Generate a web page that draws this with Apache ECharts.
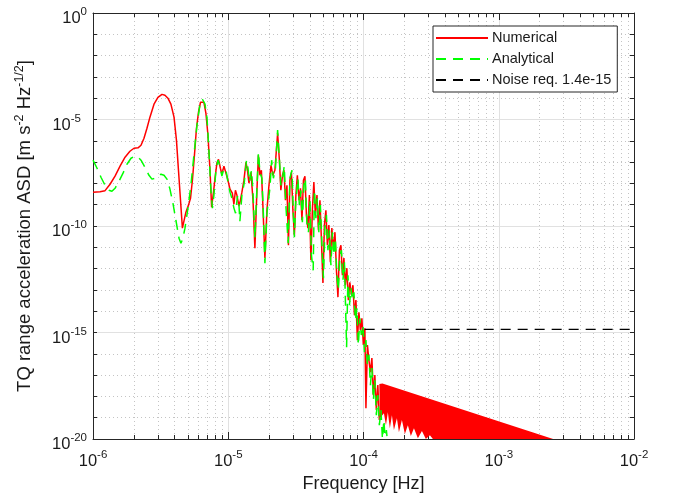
<!DOCTYPE html>
<html>
<head>
<meta charset="utf-8">
<title>TQ range acceleration ASD</title>
<script src="https://cdn.jsdelivr.net/npm/echarts@6/dist/echarts.min.js"></script>
<style>
  html, body { margin: 0; padding: 0; background: #fff; }
  #chart { width: 673px; height: 497px; }
</style>
</head>
<body>
<div id="chart"></div>
<script>
// values, kept as [log10(frequency / Hz), log10(ASD)]
const numerical = [
  [-6.000, -8.41], [-5.948, -8.39], [-5.911, -8.34], [-5.874, -8.04], [-5.837, -7.66], [-5.800, -7.19],
  [-5.763, -6.77], [-5.727, -6.49], [-5.697, -6.35], [-5.667, -6.33], [-5.645, -6.21], [-5.623, -5.88],
  [-5.601, -5.41], [-5.579, -4.89], [-5.549, -4.28], [-5.520, -3.96], [-5.490, -3.82], [-5.468, -3.86],
  [-5.446, -4.00], [-5.424, -4.28], [-5.401, -4.89], [-5.383, -5.97], [-5.368, -7.38], [-5.353, -8.79],
  [-5.339, -10.10], [-5.327, -10.01], [-5.313, -9.35], [-5.294, -9.02], [-5.279, -8.70], [-5.265, -7.85],
  [-5.250, -6.68], [-5.235, -5.41], [-5.220, -4.66], [-5.205, -4.19], [-5.194, -4.10], [-5.180, -4.19],
  [-5.165, -4.71], [-5.150, -5.74], [-5.135, -7.38], [-5.123, -9.12], [-5.109, -8.41], [-5.098, -7.76],
  [-5.084, -7.05], [-5.072, -6.87], [-5.058, -7.29], [-5.047, -7.57], [-5.032, -7.19], [-5.021, -7.15],
  [-5.006, -7.76], [-4.987, -8.27], [-4.970, -8.46], [-4.958, -8.98], [-4.947, -8.32], [-4.936, -8.55],
  [-4.921, -9.07], [-4.910, -8.79], [-4.899, -8.41], [-4.884, -7.85], [-4.869, -7.01], [-4.858, -7.38],
  [-4.847, -7.99], [-4.832, -7.48], [-4.817, -8.79], [-4.803, -11.04], [-4.788, -8.32], [-4.777, -6.68],
  [-4.766, -7.62], [-4.755, -7.38], [-4.744, -9.02], [-4.729, -11.51], [-4.714, -9.26], [-4.699, -8.09],
  [-4.684, -7.15], [-4.670, -7.62], [-4.655, -7.38], [-4.635, -5.65], [-4.622, -6.91], [-4.611, -8.32],
  [-4.599, -7.62], [-4.588, -7.38], [-4.577, -8.79], [-4.566, -8.09], [-4.555, -10.90], [-4.544, -7.85],
  [-4.533, -7.48], [-4.522, -9.26], [-4.511, -10.43], [-4.500, -8.55], [-4.489, -7.62], [-4.477, -8.79],
  [-4.466, -8.23], [-4.455, -9.73], [-4.444, -7.85], [-4.433, -7.66], [-4.422, -9.49], [-4.411, -10.10],
  [-4.400, -8.55], [-4.389, -11.61], [-4.378, -9.26], [-4.367, -7.94], [-4.356, -9.49], [-4.344, -8.55],
  [-4.333, -10.20], [-4.322, -8.79], [-4.311, -10.67], [-4.300, -12.68], [-4.289, -9.96], [-4.278, -9.26],
  [-4.267, -10.90], [-4.256, -9.96], [-4.245, -11.70], [-4.234, -10.10], [-4.222, -11.14], [-4.211, -10.29],
  [-4.200, -12.08], [-4.189, -13.34], [-4.178, -11.14], [-4.167, -10.90], [-4.156, -12.31], [-4.145, -11.51],
  [-4.134, -12.78], [-4.123, -11.98], [-4.112, -13.48], [-4.101, -12.64], [-4.089, -13.25], [-4.078, -12.78],
  [-4.067, -14.19], [-4.056, -13.48], [-4.045, -15.36], [-4.034, -14.05], [-4.023, -14.89], [-4.012, -14.33],
  [-4.001, -15.59], [-3.990, -14.80], [-3.982, -18.55], [-3.971, -15.59], [-3.960, -16.30], [-3.949, -16.86],
  [-3.938, -16.20], [-3.927, -17.94], [-3.916, -17.00], [-3.905, -18.64], [-3.894, -17.47], [-3.883, -19.11]
]

const analytical = [
  [-6.000, -6.91], [-5.970, -7.29], [-5.941, -7.71], [-5.911, -8.09], [-5.882, -8.32], [-5.860, -8.37],
  [-5.837, -8.23], [-5.808, -7.90], [-5.778, -7.52], [-5.749, -7.10], [-5.719, -6.82], [-5.690, -6.72],
  [-5.667, -6.77], [-5.645, -6.91], [-5.616, -7.24], [-5.586, -7.62], [-5.564, -7.80], [-5.542, -7.76],
  [-5.520, -7.62], [-5.497, -7.57], [-5.475, -7.62], [-5.453, -7.80], [-5.431, -8.27], [-5.409, -8.93],
  [-5.387, -9.73], [-5.364, -10.57], [-5.350, -10.81], [-5.335, -10.57], [-5.320, -10.10], [-5.298, -9.16],
  [-5.276, -8.09], [-5.254, -6.68], [-5.231, -5.27], [-5.209, -4.28], [-5.191, -4.05], [-5.172, -4.28],
  [-5.157, -4.94], [-5.143, -6.44], [-5.128, -8.32], [-5.117, -9.16], [-5.106, -8.55], [-5.091, -7.38],
  [-5.076, -6.91], [-5.061, -7.19], [-5.047, -7.66], [-5.032, -7.29], [-5.017, -7.38], [-5.002, -7.94],
  [-4.987, -8.41], [-4.973, -8.70], [-4.958, -9.16], [-4.946, -9.40], [-4.932, -8.60], [-4.921, -8.98],
  [-4.914, -9.78], [-4.899, -8.55], [-4.882, -7.99], [-4.865, -6.91], [-4.854, -7.29], [-4.843, -7.94],
  [-4.828, -7.38], [-4.817, -8.41], [-4.803, -10.57], [-4.788, -8.23], [-4.777, -6.54], [-4.766, -7.48],
  [-4.751, -7.76], [-4.740, -9.49], [-4.729, -11.75], [-4.714, -9.40], [-4.692, -8.23], [-4.679, -6.91],
  [-4.666, -7.76], [-4.651, -7.29], [-4.635, -5.50], [-4.622, -6.82], [-4.611, -8.09], [-4.599, -7.76],
  [-4.586, -7.19], [-4.574, -9.02], [-4.557, -10.81], [-4.544, -7.76], [-4.529, -7.38], [-4.518, -9.49],
  [-4.511, -10.53], [-4.500, -8.79], [-4.485, -7.76], [-4.474, -9.02], [-4.463, -8.32], [-4.452, -9.82],
  [-4.441, -8.09], [-4.430, -7.76], [-4.418, -9.96], [-4.407, -10.29], [-4.396, -8.79], [-4.385, -11.37],
  [-4.372, -12.08], [-4.363, -8.32], [-4.352, -9.63], [-4.341, -8.70], [-4.330, -10.29], [-4.319, -9.02],
  [-4.307, -10.90], [-4.296, -12.45], [-4.285, -10.10], [-4.274, -9.49], [-4.263, -11.14], [-4.252, -10.20],
  [-4.241, -11.84], [-4.230, -10.29], [-4.219, -11.37], [-4.208, -10.57], [-4.197, -12.31], [-4.186, -13.01],
  [-4.174, -11.37], [-4.163, -11.14], [-4.152, -12.54], [-4.141, -11.70], [-4.125, -15.69], [-4.115, -12.31],
  [-4.104, -13.72], [-4.093, -12.92], [-4.082, -13.48], [-4.071, -13.11], [-4.060, -14.42], [-4.049, -13.86],
  [-4.038, -15.59], [-4.027, -14.33], [-4.016, -15.12], [-4.004, -14.66], [-3.993, -15.92], [-3.982, -15.36],
  [-3.971, -16.53], [-3.960, -16.06], [-3.949, -17.47], [-3.938, -16.67], [-3.927, -18.18], [-3.916, -17.24],
  [-3.905, -18.88], [-3.894, -17.94], [-3.883, -19.35], [-3.871, -18.64], [-3.860, -20.00], [-3.849, -19.11],
  [-3.838, -20.30], [-3.831, -19.58], [-3.820, -20.30]
]

// dense red band of the numerical result above ~1.3e-4 Hz: upper edge, then lower edge right to left
const numericalTailTop = [[-3.883, -17.42], [-3.860, -17.40], [-2.598, -20.00]]
const numericalTailBottom = [
  [-3.487, -20.00], [-3.509, -19.82], [-3.539, -20.00], [-3.568, -19.63], [-3.598, -19.96], [-3.627, -19.49],
  [-3.650, -19.86], [-3.672, -19.35], [-3.694, -19.77], [-3.716, -19.11], [-3.738, -19.68], [-3.753, -19.02],
  [-3.775, -19.58], [-3.790, -18.88], [-3.805, -19.49], [-3.820, -18.74], [-3.834, -19.35], [-3.849, -18.79],
  [-3.879, -19.02]
]

const noiseFreq = [1.02e-4, 1e-2]
const noiseLevel = 1.4e-15

const xDecades = [-6, -5, -4, -3]
const minorSteps = [2, 3, 4, 5, 6, 7, 8, 9]

const FONT = '"Liberation Sans", Arial, Helvetica, sans-serif'
const INK = '#1a1a1a'
const AXIS = '#262626'

const minorX = []
xDecades.forEach(d => minorSteps.forEach(k => minorX.push([d + Math.log10(k), -10])))

// "10" sits a bit low, the exponent a bit high, like the TeX labels of the original
const powLabel = (v) => (v === -5 ? `{b|10}{t|${v}}` : `{b|10}{s|${v}}`)
const labelRich = {
  b: {fontSize: 16.5, fontFamily: FONT, color: INK, padding: [11, 0, 0, 0]},
  s: {fontSize: 11.5, fontFamily: FONT, color: INK, padding: [0, 0, 2, 0]},
  t: {fontSize: 11.5, fontFamily: FONT, color: INK, padding: [0, 6, 2, 0]}
}

const crisp = (v) => Math.round(v) + 0.5

const chart = echarts.init(document.getElementById('chart'))
const option = {
  animation: false,
  backgroundColor: '#fff',
  textStyle: {fontFamily: FONT},
  grid: {left: 93, right: 39, top: 13, bottom: 58, outerBoundsMode: 'none'},
  legend: {
    data: ['Numerical', 'Analytical', 'Noise req. 1.4e-15'],
    orient: 'vertical',
    left: 433,
    top: 26,
    padding: [4, 6, 4, 2],
    itemWidth: 52,
    itemHeight: 14,
    itemGap: 5,
    itemStyle: {opacity: 0},
    backgroundColor: '#fff',
    borderColor: AXIS,
    borderWidth: 1,
    borderRadius: 0,
    textStyle: {fontSize: 14.5, lineHeight: 16, color: INK, fontFamily: FONT, padding: [0, 0, 0, -1]}
  },
  xAxis: [
    {
      type: 'value', position: 'bottom', min: -6, max: -2, interval: 1,
      name: 'Frequency [Hz]', nameLocation: 'middle', nameGap: 36, nameMoveOverlap: false,
      nameTextStyle: {fontSize: 18, color: INK, fontFamily: FONT},
      axisLine: {show: true, onZero: false, lineStyle: {color: AXIS, width: 1}},
      axisTick: {show: true, inside: true, length: 7, lineStyle: {color: AXIS}},
      axisLabel: {margin: 3, formatter: (v) => `{b|10}{s|${v}}`, rich: labelRich},
      splitLine: {show: true, lineStyle: {color: '#e1e1e1', width: 1}}
    },
    {
      type: 'value', position: 'top', min: -6, max: -2, interval: 1,
      axisLine: {show: true, onZero: false, lineStyle: {color: AXIS, width: 1}},
      axisTick: {show: true, inside: true, length: 7, lineStyle: {color: AXIS}},
      axisLabel: {show: false},
      splitLine: {show: false}
    }
  ],
  yAxis: [
    {
      type: 'value', position: 'left', min: -20, max: 0, interval: 1,
      name: 'TQ range acceleration ASD [m s{sup|-2} Hz{sup|-1/2}]',
      nameLocation: 'middle', nameGap: 56, nameMoveOverlap: false,
      nameTextStyle: {
        fontSize: 18.5, color: INK, fontFamily: FONT,
        rich: {sup: {fontSize: 12.5, color: INK, fontFamily: FONT, padding: [0, 0, 11, 0]}}
      },
      axisLine: {show: true, onZero: false, lineStyle: {color: AXIS, width: 1}},
      axisTick: {show: true, inside: true, length: 4, lineStyle: {color: AXIS}},
      axisLabel: {
        margin: 6,
        formatter: (v) => (v % 5 === 0 ? powLabel(v) : ''),
        rich: labelRich
      },
      splitLine: {show: true, lineStyle: {color: '#c4c4c4', width: 1, type: [1, 3]}}
    },
    {
      type: 'value', position: 'right', min: -20, max: 0, interval: 1,
      axisLine: {show: true, onZero: false, lineStyle: {color: AXIS, width: 1}},
      axisTick: {show: true, inside: true, length: 4, lineStyle: {color: AXIS}},
      axisLabel: {show: false},
      splitLine: {show: false}
    },
    {
      type: 'value', position: 'left', min: -20, max: 0, interval: 5,
      axisLine: {show: false},
      axisTick: {show: false},
      axisLabel: {show: false},
      splitLine: {show: true, lineStyle: {color: '#e1e1e1', width: 1}}
    }
  ],
  series: [
    {
      // minor log grid + minor ticks on the frequency axis
      type: 'custom',
      silent: true,
      data: minorX,
      renderItem: (params, api) => {
        const x = api.value(0)
        const top = api.coord([x, 0])
        const bot = api.coord([x, -20])
        const px = crisp(top[0])
        return {
          type: 'group',
          children: [
            {type: 'line', shape: {x1: px, y1: top[1], x2: px, y2: bot[1]}, style: {stroke: '#c4c4c4', lineWidth: 1, lineDash: [1, 3]}},
            {type: 'line', shape: {x1: px, y1: bot[1], x2: px, y2: bot[1] - 4}, style: {stroke: AXIS, lineWidth: 1}},
            {type: 'line', shape: {x1: px, y1: top[1], x2: px, y2: top[1] + 4}, style: {stroke: AXIS, lineWidth: 1}}
          ]
        }
      }
    },
    {
      name: 'Numerical',
      type: 'line',
      data: numerical,
      showSymbol: false,
      symbol: 'none',
      color: '#ff0000',
      lineStyle: {color: '#ff0000', width: 1.5},
      silent: true
    },
    {
      name: 'NumericalTail',
      type: 'custom',
      silent: true,
      data: [[-3.5, -19]],
      renderItem: (params, api) => ({
        type: 'polygon',
        shape: {points: numericalTailTop.concat(numericalTailBottom).map(p => api.coord(p))},
        style: {fill: '#ff0000'}
      })
    },
    {
      name: 'Analytical',
      type: 'line',
      data: analytical,
      showSymbol: false,
      symbol: 'none',
      color: '#00ff00',
      lineStyle: {color: '#00ff00', width: 1.5, type: [10, 7]},
      silent: true
    },
    {
      name: 'Noise req. 1.4e-15',
      type: 'line',
      data: noiseFreq.map(f => [Math.log10(f), Math.log10(noiseLevel)]),
      showSymbol: false,
      symbol: 'none',
      color: '#000',
      lineStyle: {color: '#000', width: 1.2, type: [10, 7]},
      silent: true
    }
  ]
}
chart.setOption(option)
</script>
</body>
</html>
